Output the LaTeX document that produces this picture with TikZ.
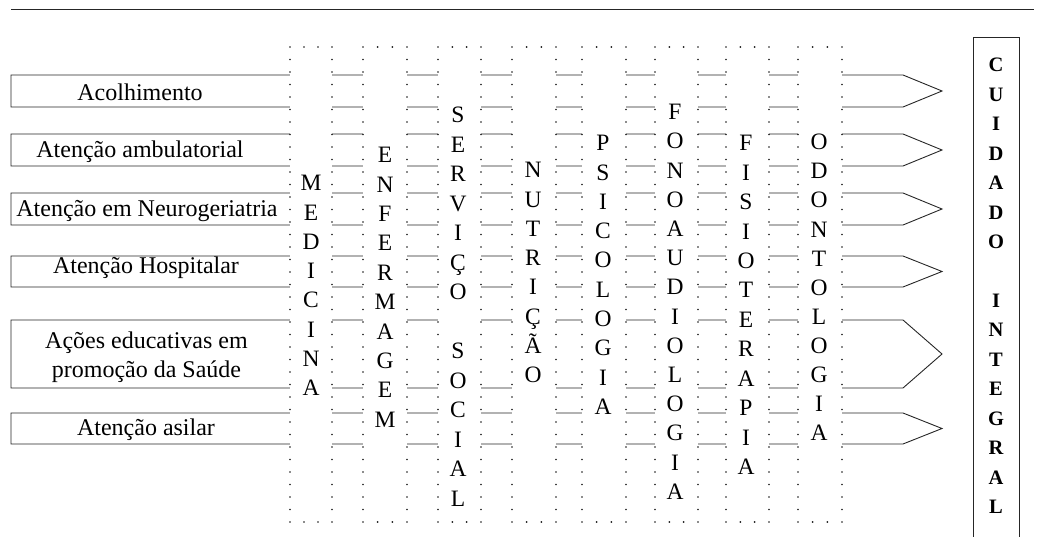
\documentclass[tikz,border=0pt]{standalone}
\usepackage{fontspec}
\setmainfont{Liberation Serif}
\begin{document}
\begin{tikzpicture}[x=1pt,y=-1pt,
  rule/.style={line width=0.9pt, draw=black!85},
  chan/.style={line width=0.9pt, draw=black!85},
  lab/.style={font=\fontsize{24}{29}\selectfont, inner sep=0pt, anchor=base, text=black},
  let/.style={font=\fontsize{23.5}{23.5}\selectfont, inner sep=0pt, text height=15.5pt, text depth=0pt, anchor=center, text=black},
  big/.style={font=\fontsize{20.5}{20.5}\selectfont\bfseries, inner sep=0pt, text height=13.5pt, text depth=0pt, anchor=center, text=black},
  dot/.style={fill=black!90},
]
\useasboundingbox (0,0) rectangle (1044,537);
% top rule
\coordinate (ruleL) at (11,9);
\coordinate (ruleR) at (1034,9);
\draw[rule] (ruleL) -- (ruleR);

% channels
\foreach \t/\b/\n in {75/107/1, 134/166/2, 193/225/3, 256/287/4, 320/388/5, 413/444/6} {
  \coordinate (tl\n) at (11,\t);
  \coordinate (bl\n) at (11,\b);
  \coordinate (tr\n) at (903,\t);
  \coordinate (br\n) at (903,\b);
  \coordinate (tip\n) at (942,{(\t+\b)/2});
  \draw[chan, line join=miter] (tr\n) -- (tl\n) -- (bl\n) -- (br\n) -- (tip\n) -- cycle;
}

% labels
\node[lab] (acol) at (140,101) {Acolhimento};
\node[lab] (ambu) at (140,158) {Atenção ambulatorial};
\node[lab] (neuro) at (147,217) {Atenção em Neurogeriatria};
\node[lab] (hosp) at (146,274) {Atenção Hospitalar};
\node[lab] (acoesA) at (146.5,348) {Ações educativas em};
\node[lab] (acoesB) at (146.5,377) {promoção da Saúde};
\node[lab] (asil) at (146,435) {Atenção asilar};

% dotted columns
\foreach \xl/\xr in {290/332, 363/407, 438/481, 512/556, 582/626, 655/698, 726/769, 798/842} {
  \fill[white] (\xl,47) rectangle (\xr,522);
  \foreach \k in {0,...,38} {
    \fill[dot] (\xl,{47+\k*12.5}) circle[radius=0.95pt];
    \fill[dot] (\xr,{47+\k*12.5}) circle[radius=0.95pt];
  }
  \foreach \k in {1,2} {
    \fill[dot] ({\xl+\k*(\xr-\xl)/3},47) circle[radius=0.95pt];
    \fill[dot] ({\xl+\k*(\xr-\xl)/3},522) circle[radius=0.95pt];
  }
}

% column letters
\foreach \c [count=\i] in {M,E,D,I,C,I,N,A}
  \node[let] (med\i) at (311,{183+(\i-1)*29.3}) {\c};
\foreach \c [count=\i] in {E,N,F,E,R,M,A,G,E,M}
  \node[let] (enf\i) at (385,{155+(\i-1)*29.4}) {\c};
\foreach \c [count=\i] in {S,E,R,V,I,Ç,O,{},S,O,C,I,A,L}
  \node[let] (ss\i) at (458,{115+(\i-1)*29.5}) {\c};
\foreach \c [count=\i] in {N,U,T,R,I,Ç,Ã,O}
  \node[let] (nut\i) at (533,{170+(\i-1)*29.3}) {\c};
\foreach \c [count=\i] in {P,S,I,C,O,L,O,G,I,A}
  \node[let] (psi\i) at (603,{143+(\i-1)*29.3}) {\c};
\foreach \c [count=\i] in {F,O,N,O,A,U,D,I,O,L,O,G,I,A}
  \node[let] (fono\i) at (675,{112+(\i-1)*29.2}) {\c};
\foreach \c [count=\i] in {F,I,S,I,O,T,E,R,A,P,I,A}
  \node[let] (fisio\i) at (746,{143+(\i-1)*29.45}) {\c};
\foreach \c [count=\i] in {O,D,O,N,T,O,L,O,G,I,A}
  \node[let] (odo\i) at (819,{142+(\i-1)*29.1}) {\c};

% CUIDADO INTEGRAL box
\coordinate (cbl) at (973,537);
\coordinate (ctl) at (973,37);
\coordinate (ctr) at (1019,37);
\coordinate (cbr) at (1019,537);
\draw[chan] (cbl) -- (ctl) -- (ctr) -- (cbr);
\foreach \c [count=\i] in {C,U,I,D,A,D,O,{},I,N,T,E,G,R,A,L}
  \node[big] (ci\i) at (996,{65+(\i-1)*29.47}) {\c};
\end{tikzpicture}
\end{document}
